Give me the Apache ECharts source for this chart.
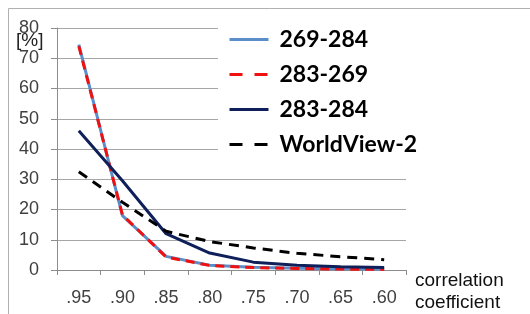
<!DOCTYPE html>
<html>
<head>
<meta charset="utf-8">
<script src="https://cdn.jsdelivr.net/npm/echarts@6/dist/echarts.min.js"></script>
<style>
  html, body { margin: 0; padding: 0; background: #fff; }
  #main { width: 530px; height: 314px; }
</style>
</head>
<body>
<div id="main"></div>
<script>
'use strict'
// correlation coefficient vs share of pixels

var categories = ['.95', '.90', '.85', '.80', '.75', '.70', '.65', '.60'];
var yTicks = [0, 10, 20, 30, 40, 50, 60, 70, 80];

var s269_284 = [74.5, 18, 4.5, 1.6, 0.9, 0.6, 0.4, 0.3];
var s283_269 = [74, 18.2, 4.3, 1.5, 0.8, 0.5, 0.3, 0.2];
var s283_284 = [46, 29.5, 12, 5.6, 2.6, 1.6, 1.1, 0.8];
var sWV2 = [32.5, 22.4, 12.8, 9.4, 7.3, 5.5, 4.4, 3.4];

var font = 'Lato, "Liberation Sans", sans-serif';
var axisFont = '"Liberation Sans", Arial, sans-serif';

var option = {
    animation: false,
    backgroundColor: '#fff',
    grid: {
        left: 57,
        right: 124,
        top: 28,
        bottom: 40
    },
    legend: {
        orient: 'vertical',
        left: 218,
        top: 16,
        padding: [12, 10, 10, 10],
        itemGap: 12,
        itemWidth: 39,
        itemHeight: 14,
        backgroundColor: '#fff',
        z: 10,
        itemStyle: { opacity: 0 },
        lineStyle: { width: 3 },
        textStyle: {
            fontFamily: font,
            fontWeight: 'bold',
            fontSize: 23,
            color: '#000',
            padding: [0, 0, 0, 6]
        },
        data: [
            { name: '269-284' },
            { name: '283-269', lineStyle: { width: 3, type: [13, 12] } },
            { name: '283-284' },
            { name: 'WorldView-2', lineStyle: { width: 3, type: [13, 12] } }
        ]
    },
    xAxis: {
        type: 'category',
        data: categories,
        boundaryGap: true,
        name: 'correlation\ncoefficient',
        nameLocation: 'end',
        nameGap: 9,
        nameTextStyle: {
            fontFamily: axisFont,
            fontSize: 19,
            color: '#111',
            align: 'left',
            verticalAlign: 'top',
            lineHeight: 22,
            padding: [0, 0, 0, 0]
        },
        axisLine: { lineStyle: { color: '#8c8c8c', width: 1 } },
        axisTick: { show: true, length: 5, lineStyle: { color: '#8c8c8c' } },
        axisLabel: {
            margin: 19,
            fontFamily: axisFont,
            fontSize: 18,
            color: '#404040'
        },
        splitLine: { show: false }
    },
    yAxis: {
        type: 'value',
        min: 0,
        max: 80,
        interval: 10,
        axisLine: { show: true, lineStyle: { color: '#8c8c8c', width: 1 } },
        axisTick: { show: true, length: 6, lineStyle: { color: '#8c8c8c' } },
        axisLabel: {
            margin: 18,
            fontFamily: axisFont,
            fontSize: 18,
            color: '#404040',
            formatter: function (v) { return yTicks.indexOf(v) >= 0 ? String(v) : ''; }
        },
        splitLine: { show: true, lineStyle: { color: '#a6a6a6', width: 1 } }
    },
    graphic: [
        {
            type: 'rect',
            shape: { x: 8.5, y: 8.5, width: 540, height: 330 },
            style: { fill: null, stroke: '#b0b0b0', lineWidth: 1 },
            silent: true,
            z: -10
        },
        {
            type: 'text',
            left: 16,
            top: 31,
            style: {
                text: '[%]',
                fontFamily: axisFont,
                fontSize: 19,
                fill: '#222'
            }
        }
    ],
    series: [
        {
            name: '269-284',
            type: 'line',
            symbol: 'none',
            data: s269_284,
            lineStyle: { color: '#5b8ec9', width: 3 },
            itemStyle: { color: '#5b8ec9' }
        },
        {
            name: '283-269',
            type: 'line',
            symbol: 'none',
            data: s283_269,
            lineStyle: { color: '#f01010', width: 3, type: [9, 6] },
            itemStyle: { color: '#f01010' }
        },
        {
            name: '283-284',
            type: 'line',
            symbol: 'none',
            data: s283_284,
            lineStyle: { color: '#0f1f5a', width: 3 },
            itemStyle: { color: '#0f1f5a' }
        },
        {
            name: 'WorldView-2',
            type: 'line',
            symbol: 'none',
            data: sWV2,
            lineStyle: { color: '#000', width: 3, type: [10, 7] },
            itemStyle: { color: '#000' }
        }
    ]
};

var myChart = echarts.init(document.getElementById('main'));
myChart.setOption(option);
</script>
</body>
</html>
